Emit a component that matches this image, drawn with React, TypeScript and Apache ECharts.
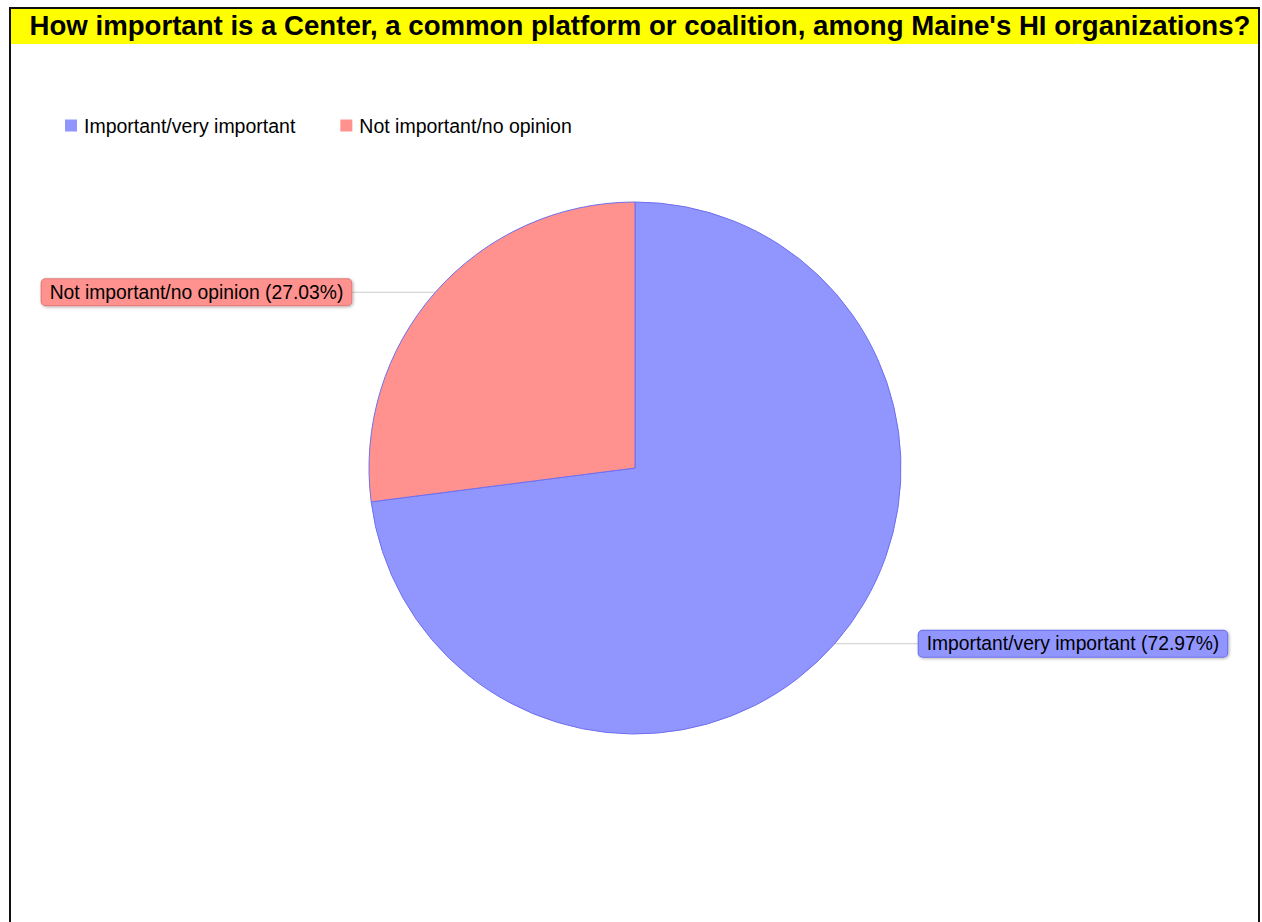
import React, { useEffect, useRef } from "react";
import * as echarts from "echarts";

const titleText = "How important is a Center, a common platform or coalition, among Maine's HI organizations?";
const categories = ["Important/very important", "Not important/no opinion"];
const values = [72.97, 27.03];
const colors = ["#9196FF", "#FF928E"];
const borderColors = ["#6B6FE8", "#E07878"];
const FONT = "Liberation Sans";

export default function App() {
  const ref = useRef<HTMLDivElement>(null);
  useEffect(() => {
    const chart = echarts.init(ref.current!, null, { renderer: "svg" });
    chart.setOption({
      animation: false,
      backgroundColor: "#ffffff",
      graphic: [
        { type: "rect", z: 0, shape: { x: 10, y: 8, width: 1249, height: 940 }, style: { fill: "#ffffff", stroke: "#111111", lineWidth: 2 } },
        { type: "rect", z: 1, shape: { x: 11, y: 9, width: 1247, height: 35 }, style: { fill: "#FFFF00" } },
      ],
      title: {
        text: titleText,
        left: 640,
        textAlign: "center",
        top: 10,
        padding: 0,
        z: 5,
        textStyle: { fontFamily: FONT, fontWeight: "bold", fontSize: 27.6, color: "#000000", lineHeight: 30 },
      },
      legend: {
        left: 65,
        top: 115.5,
        padding: 0,
        icon: "rect",
        itemWidth: 12,
        itemHeight: 12,
        itemGap: 45,
        data: categories,
        itemStyle: { borderWidth: 0 },
        textStyle: { fontFamily: FONT, fontSize: 19.5, lineHeight: 20, color: "#000000", padding: [0, 0, 0, 2] },
      },
      series: [
        {
          type: "pie",
          center: [635, 468],
          radius: 266,
          startAngle: 90,
          clockwise: true,
          silent: true,
          data: categories.map((name, i) => ({
            name,
            value: values[i],
            itemStyle: { color: colors[i], borderColor: "#6F6FEF", borderWidth: 1 },
            label: {
              backgroundColor: colors[i],
              borderColor: borderColors[i],
            },
          })),
          label: {
            show: true,
            position: "outside",
            formatter: (p: any) => `${p.name} (${p.value.toFixed(2)}%)`,
            fontFamily: FONT,
            fontSize: 19.3,
            lineHeight: 20,
            color: "#000000",
            borderWidth: 1,
            borderRadius: 4,
            padding: [3, 8, 3, 8],
            distanceToLabelLine: 0,
            shadowColor: "rgba(0,0,0,0.3)",
            shadowBlur: 3,
            shadowOffsetX: 1,
            shadowOffsetY: 1,
          },
          labelLine: {
            show: true,
            length: 0,
            length2: 84,
            lineStyle: { color: "#cccccc", width: 1 },
          },
        },
      ],
    });
    return () => chart.dispose();
  }, []);
  return <div ref={ref} style={{ position: "fixed", left: 0, top: 0, width: 1262, height: 922 }} />;
}
